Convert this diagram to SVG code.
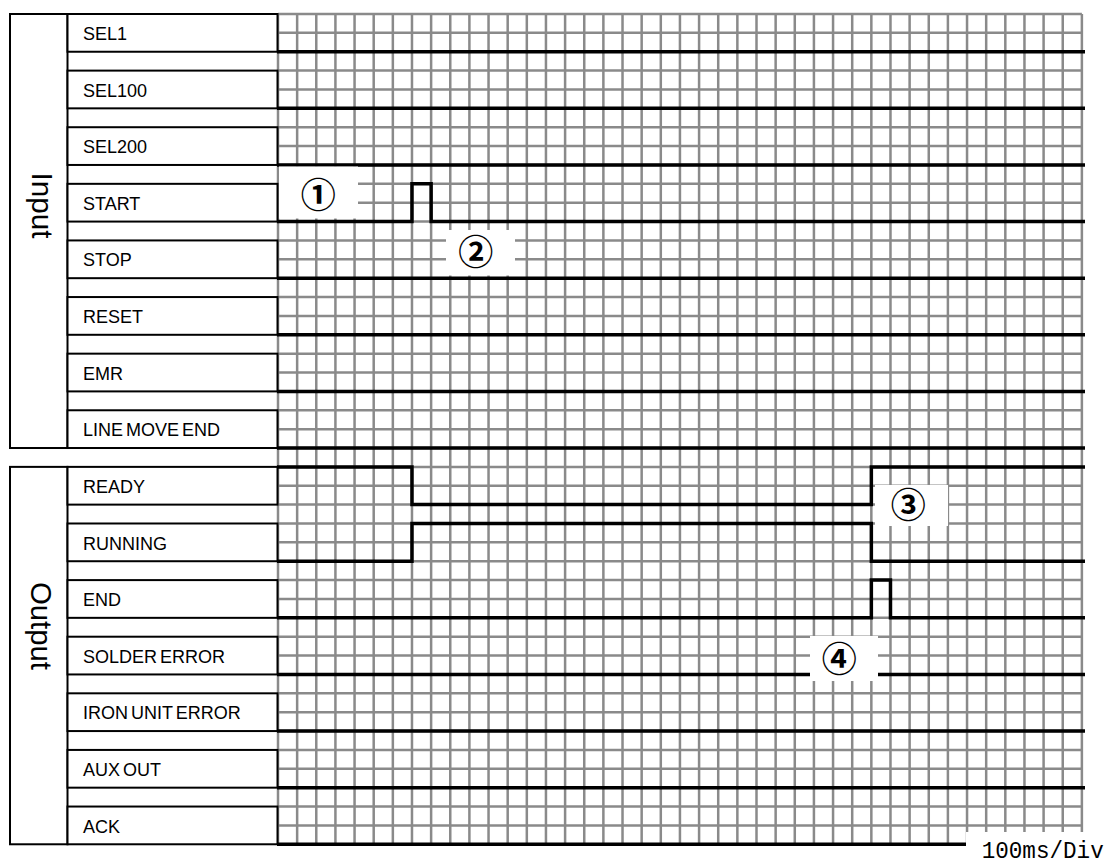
<svg xmlns="http://www.w3.org/2000/svg" width="1110" height="865" viewBox="0 0 1110 865">
<style>
.frame{fill:none;stroke:#000;stroke-width:2}
.box{fill:#fff;stroke:#000;stroke-width:2}
.grid{fill:none;stroke:#8a8a8a;stroke-width:2.5}
.sig{fill:none;stroke:#000;stroke-width:3.5;stroke-linejoin:miter}
.lbl{font-family:"Liberation Sans",Arial,sans-serif;font-size:18px;fill:#000}
.sec{font-family:"Liberation Sans",Arial,sans-serif;font-size:30px;fill:#000}
.num{font-family:"Noto Sans CJK JP","DejaVu Sans",sans-serif;font-size:35px;font-weight:bold;fill:#000;text-anchor:middle}
.mask{fill:#fff;stroke:none}
</style>
<rect width="1110" height="865" fill="#fff"/>
<g id="grid">
<path class="grid" d="M278 14V844.28M297.14 14V844.28M316.28 14V844.28M335.42 14V844.28M354.56 14V844.28M373.7 14V844.28M392.84 14V844.28M411.98 14V844.28M431.12 14V844.28M450.26 14V844.28M469.4 14V844.28M488.54 14V844.28M507.68 14V844.28M526.82 14V844.28M545.96 14V844.28M565.1 14V844.28M584.24 14V844.28M603.38 14V844.28M622.52 14V844.28M641.66 14V844.28M660.8 14V844.28M679.94 14V844.28M699.08 14V844.28M718.22 14V844.28M737.36 14V844.28M756.5 14V844.28M775.64 14V844.28M794.78 14V844.28M813.92 14V844.28M833.06 14V844.28M852.2 14V844.28M871.34 14V844.28M890.48 14V844.28M909.62 14V844.28M928.76 14V844.28M947.9 14V844.28M967.04 14V844.28M986.18 14V844.28M1005.32 14V844.28M1024.46 14V844.28M1043.6 14V844.28M1062.74 14V844.28M1081.88 14V844.28"/>
<path class="grid" d="M278 14H1081.88M278 32.87H1081.88M278 51.74H1081.88M278 70.61H1081.88M278 89.48H1081.88M278 108.35H1081.88M278 127.22H1081.88M278 146.09H1081.88M278 164.96H1081.88M278 183.83H1081.88M278 202.7H1081.88M278 221.57H1081.88M278 240.44H1081.88M278 259.31H1081.88M278 278.18H1081.88M278 297.05H1081.88M278 315.92H1081.88M278 334.79H1081.88M278 353.66H1081.88M278 372.53H1081.88M278 391.4H1081.88M278 410.27H1081.88M278 429.14H1081.88M278 448.01H1081.88M278 466.88H1081.88M278 485.75H1081.88M278 504.62H1081.88M278 523.49H1081.88M278 542.36H1081.88M278 561.23H1081.88M278 580.1H1081.88M278 598.97H1081.88M278 617.84H1081.88M278 636.71H1081.88M278 655.58H1081.88M278 674.45H1081.88M278 693.32H1081.88M278 712.19H1081.88M278 731.06H1081.88M278 749.93H1081.88M278 768.8H1081.88M278 787.67H1081.88M278 806.54H1081.88M278 825.41H1081.88M278 844.28H1081.88"/>
</g>
<g id="connectors">
<path class="sig" d="M277 51.74H1085"/>
<path class="sig" d="M277 108.35H1085"/>
<path class="sig" d="M277 164.96H1085"/>
<path class="sig" d="M277 221.57H411.98V183.83H431.12V221.57H1085"/>
<path class="sig" d="M277 278.18H1085"/>
<path class="sig" d="M277 334.79H1085"/>
<path class="sig" d="M277 391.4H1085"/>
<path class="sig" d="M277 448.01H1085"/>
<path class="sig" d="M277 466.88H411.98V504.62H871.34V466.88H1085"/>
<path class="sig" d="M277 561.23H411.98V523.49H871.34V561.23H1085"/>
<path class="sig" d="M277 617.84H871.34V580.1H890.48V617.84H1085"/>
<path class="sig" d="M277 674.45H1085"/>
<path class="sig" d="M277 731.06H1085"/>
<path class="sig" d="M277 787.67H1085"/>
<path class="sig" d="M277 844.28H1085"/>
</g>
<g id="input">
<rect class="frame" x="10" y="14" width="57.5" height="434.01"/>
<text class="sec" transform="translate(31.5 205.5) rotate(90)" text-anchor="middle" textLength="66" lengthAdjust="spacingAndGlyphs">Input</text>
</g>
<g id="output">
<rect class="frame" x="10" y="466.88" width="57.5" height="377.4"/>
<text class="sec" transform="translate(31 626) rotate(90)" text-anchor="middle" textLength="88" lengthAdjust="spacingAndGlyphs">Output</text>
</g>
<g id="sel1"><rect class="box" x="67.5" y="14" width="210" height="37.74"/><text class="lbl" x="83" y="40">SEL1</text></g>
<g id="sel100"><rect class="box" x="67.5" y="70.61" width="210" height="37.74"/><text class="lbl" x="83" y="96.6">SEL100</text></g>
<g id="sel200"><rect class="box" x="67.5" y="127.22" width="210" height="37.74"/><text class="lbl" x="83" y="153.2">SEL200</text></g>
<g id="start"><rect class="box" x="67.5" y="183.83" width="210" height="37.74"/><text class="lbl" x="83" y="209.8">START</text></g>
<g id="stop"><rect class="box" x="67.5" y="240.44" width="210" height="37.74"/><text class="lbl" x="83" y="266.4">STOP</text></g>
<g id="reset"><rect class="box" x="67.5" y="297.05" width="210" height="37.74"/><text class="lbl" x="83" y="323">RESET</text></g>
<g id="emr"><rect class="box" x="67.5" y="353.66" width="210" height="37.74"/><text class="lbl" x="83" y="379.7">EMR</text></g>
<g id="linemoveend"><rect class="box" x="67.5" y="410.27" width="210" height="37.74"/><text class="lbl" x="83" y="436.3" word-spacing="-2">LINE MOVE END</text></g>
<g id="ready"><rect class="box" x="67.5" y="466.88" width="210" height="37.74"/><text class="lbl" x="83" y="492.9">READY</text></g>
<g id="running"><rect class="box" x="67.5" y="523.49" width="210" height="37.74"/><text class="lbl" x="83" y="549.5">RUNNING</text></g>
<g id="end"><rect class="box" x="67.5" y="580.1" width="210" height="37.74"/><text class="lbl" x="83" y="606.1">END</text></g>
<g id="soldererror"><rect class="box" x="67.5" y="636.71" width="210" height="37.74"/><text class="lbl" x="83" y="662.7" word-spacing="-2">SOLDER ERROR</text></g>
<g id="ironuniterror"><rect class="box" x="67.5" y="693.32" width="210" height="37.74"/><text class="lbl" x="83" y="719.3" word-spacing="-2">IRON UNIT ERROR</text></g>
<g id="auxout"><rect class="box" x="67.5" y="749.93" width="210" height="37.74"/><text class="lbl" x="83" y="775.9" word-spacing="-2">AUX OUT</text></g>
<g id="ack"><rect class="box" x="67.5" y="806.54" width="210" height="37.74"/><text class="lbl" x="83" y="832.5">ACK</text></g>
<g id="note1"><rect class="mask" x="279" y="166.5" width="79" height="52"/><text class="num" x="318.3" y="207.5">①</text></g>
<g id="note2"><rect class="mask" x="446" y="230" width="69" height="45.5"/><text class="num" x="475.7" y="264.9">②</text></g>
<g id="note3"><rect class="mask" x="875" y="485" width="73" height="41"/><text class="num" x="908.3" y="518.2">③</text></g>
<g id="note4"><rect class="mask" x="810" y="636" width="68" height="45"/><text class="num" x="839.3" y="672.2">④</text></g>
<g id="scale"><rect class="mask" x="966" y="832" width="144" height="33"/><text x="981.7" y="857.5" font-family="'Liberation Mono',monospace" font-size="24" textLength="122" lengthAdjust="spacingAndGlyphs">100ms/Div</text></g>
</svg>
